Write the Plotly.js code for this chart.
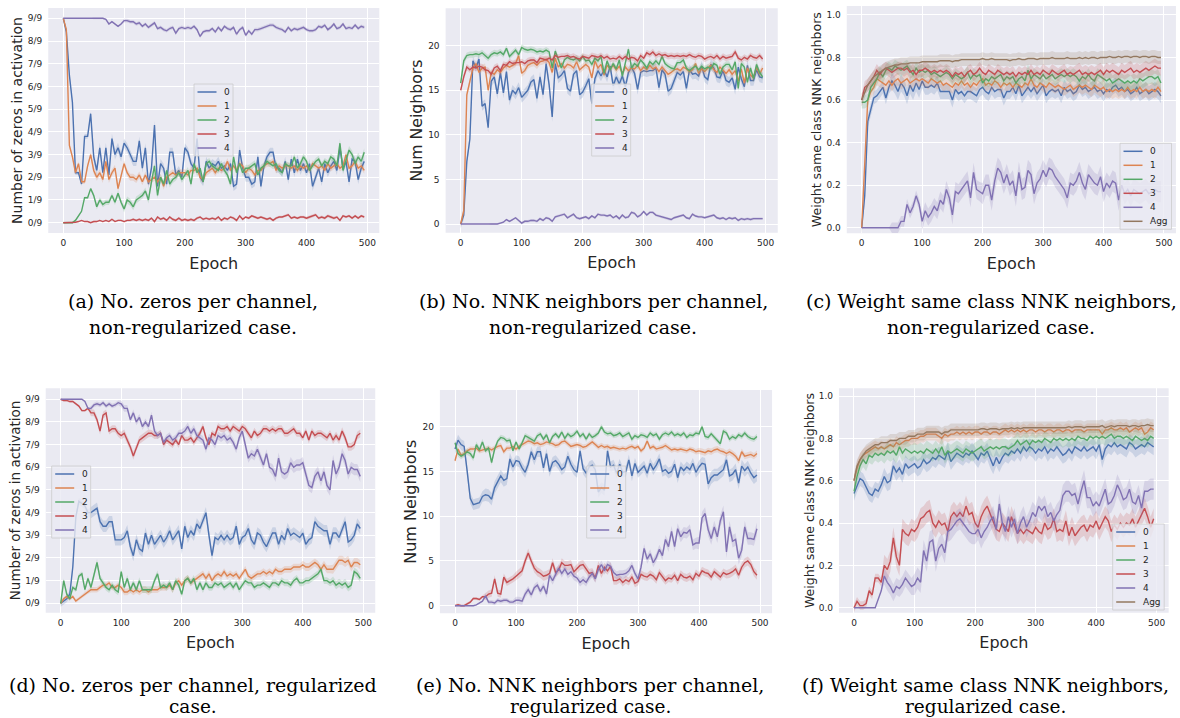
<!DOCTYPE html>
<html>
<head>
<meta charset="utf-8">
<script src="https://cdn.plot.ly/plotly-3.0.1.min.js"></script>
<style>
  html, body { margin: 0; padding: 0; background: #ffffff; }
  #chart { width: 1180px; height: 718px; }
</style>
</head>
<body>
<div id="chart"></div>
<script>
// ---------------- DATA ----------------
const EPOCHS = [0,5,10,15,20,25,30,35,40,45,
  50,55,60,65,70,75,80,85,90,95,
  100,105,110,115,120,125,130,135,140,145,
  150,155,160,165,170,175,180,185,190,195,
  200,205,210,215,220,225,230,235,240,245,
  250,255,260,265,270,275,280,285,290,295,
  300,305,310,315,320,325,330,335,340,345,
  350,355,360,365,370,375,380,385,390,395,
  400,405,410,415,420,425,430,435,440,445,
  450,455,460,465,470,475,480,485,490,495];

const SERIES_NAMES = ['0', '1', '2', '3', '4', 'Agg'];
const ZERO_TICK_LABELS = ['0/9','1/9','2/9','3/9','4/9','5/9','6/9','7/9','8/9','9/9'];

// (a) zeros per channel, non-regularized (values in ninths)
const zerosNR0 = [9,8.4,6.5,5.3,2.2,2.2,1.7,3.8,3.8,4.8,
  2.9,2.3,3.3,2.2,3.3,2.1,3.7,3.0,3.3,2.9,
  3.5,3.3,3.0,2.7,2.7,3.6,2.4,3.3,1.7,2.4,
  4.3,1.6,2.6,2.4,1.7,3.1,3.1,2.1,2.3,2.0,
  3.3,3.1,2.6,2.4,3.7,2.0,1.8,2.7,2.4,2.6,
  2.5,2.7,2.4,2.5,2.3,2.6,1.6,1.7,3.2,2.4,
  2.0,2.0,1.7,1.8,2.9,1.6,2.5,2.9,3.1,3.1,
  2.4,2.4,2.2,2.7,1.9,2.8,2.2,2.8,2.3,2.6,
  2.2,2.6,1.6,2.0,2.4,1.8,2.6,2.2,2.5,2.7,
  2.3,3.3,2.4,2.7,1.8,2.8,2.7,1.9,2.4,2.7];
const zerosNR1 = [9,8.5,3.4,2.9,2.2,2.6,1.8,1.8,2.5,3.0,
  2.3,2.0,2.2,1.9,2.7,1.9,2.2,2.4,1.5,2.1,
  2.6,2.2,2.0,2.0,1.9,2.1,1.8,2.1,1.8,1.9,
  2.0,1.8,2.0,1.6,2.0,2.1,2.2,2.1,2.2,2.2,
  2.2,2.1,2.3,2.3,2.4,2.0,1.9,2.2,2.3,2.4,
  2.2,2.4,2.3,2.4,2.7,2.3,2.5,2.3,2.6,2.5,
  2.2,2.4,2.3,2.1,2.3,2.3,2.5,2.6,2.6,2.7,
  2.3,2.5,2.4,2.5,2.5,2.4,2.5,2.3,2.5,2.4,
  2.5,2.3,2.6,2.5,2.4,2.5,2.3,2.6,2.4,2.5,
  2.6,2.4,2.5,3.0,2.4,2.5,2.7,2.4,2.5,2.3];
const zerosNR2 = [0,0,0,0,0.1,0.3,0.5,1.1,1.1,1.5,
  1.2,0.7,1.0,0.8,0.9,0.9,1.2,0.9,1.3,0.9,
  0.6,1.0,0.9,0.7,1.0,1.1,1.2,1.4,1.0,1.8,
  2.5,1.2,2.0,1.7,2.3,1.7,1.9,2.0,2.2,1.9,
  2.1,2.3,1.7,2.6,2.2,2.4,1.8,2.6,2.7,2.5,
  2.4,2.3,2.6,2.3,2.1,1.7,2.9,2.2,2.6,2.2,
  2.4,2.4,2.5,2.6,2.1,2.4,2.5,2.7,2.6,2.5,
  2.6,2.3,2.2,2.6,2.5,2.5,2.9,2.4,2.6,2.9,
  2.7,2.3,2.5,2.7,2.8,2.5,2.7,2.6,2.9,2.8,
  2.5,3.5,2.3,2.7,3.2,3.0,2.6,2.9,2.7,3.1];
const zerosNR3 = [0,0,0,0,0.02,0.05,0.1,0.05,0.05,0.0,
  0.05,0.05,0.1,0.05,0.1,0.05,0.15,0.05,0.1,0.1,
  0.05,0.1,0.1,0.15,0.1,0.15,0.1,0.15,0.1,0.2,
  0.05,0.25,0.15,0.2,0.1,0.25,0.15,0.1,0.2,0.1,
  0.15,0.1,0.15,0.1,0.2,0.25,0.15,0.2,0.15,0.2,
  0.15,0.25,0.1,0.2,0.15,0.25,0.2,0.1,0.3,0.15,
  0.25,0.2,0.3,0.25,0.2,0.25,0.2,0.15,0.2,0.1,
  0.2,0.25,0.25,0.3,0.35,0.2,0.25,0.2,0.25,0.25,
  0.2,0.25,0.3,0.35,0.2,0.25,0.2,0.3,0.25,0.2,
  0.25,0.1,0.3,0.25,0.3,0.2,0.3,0.2,0.3,0.25];
const zerosNR4 = [9,9,9,9,9,9,9,9,9,9,
  9,9,9,9.0,8.95,8.75,8.85,8.75,8.65,8.75,
  8.9,8.9,8.85,8.85,8.75,8.8,8.65,8.75,8.6,8.7,
  8.8,8.55,8.6,8.5,8.45,8.55,8.6,8.35,8.55,8.6,
  8.55,8.6,8.55,8.65,8.5,8.2,8.4,8.45,8.45,8.55,
  8.4,8.6,8.45,8.65,8.55,8.5,8.6,8.3,8.5,8.6,
  8.25,8.45,8.3,8.5,8.5,8.55,8.6,8.65,8.7,8.7,
  8.6,8.55,8.5,8.4,8.6,8.45,8.55,8.5,8.55,8.6,
  8.5,8.45,8.45,8.5,8.65,8.6,8.7,8.5,8.6,8.75,
  8.55,8.6,8.75,8.55,8.6,8.55,8.7,8.55,8.65,8.6];
// band half-width per 50-epoch block, one row per channel
const zerosNRSpread = [
  [0.1, 0.22, 0.2, 0.2, 0.2, 0.2, 0.2, 0.2, 0.2, 0.2],
  [0.1, 0.15, 0.15, 0.15, 0.15, 0.15, 0.15, 0.15, 0.15, 0.15],
  [0.05, 0.12, 0.15, 0.15, 0.15, 0.15, 0.15, 0.15, 0.15, 0.18],
  [0.02, 0.04, 0.05, 0.06, 0.06, 0.06, 0.06, 0.06, 0.07, 0.06],
  [0, 0.04, 0.08, 0.08, 0.08, 0.08, 0.08, 0.08, 0.08, 0.08]];

// (b) NNK neighbors per channel, non-regularized
const nbrsNR0 = [0,1.0,7.0,9.5,18.3,17.5,18.5,13.2,13.5,10.8,
  16.0,16.5,14.6,17.0,14.7,17.1,13.9,15.0,14.6,15.3,
  14.2,14.6,15.0,15.9,16.2,14.1,16.5,14.5,18.0,15.6,
  12.0,18.0,16.4,16.7,17.2,15.2,14.9,16.8,17.2,14.5,
  14.8,15.5,16.3,13.5,16.3,17.2,16.6,17.3,16.5,17.7,
  15.5,16.5,15.7,16.6,15.4,17.0,17.6,16.9,15.1,17.0,
  17.2,17.1,17.2,17.2,17.5,15.3,17.3,16.8,14.9,15.2,
  16.1,17.0,16.7,17.1,15.2,17.3,16.8,16.9,16.6,17.7,
  16.5,16.2,17.9,17.5,16.5,16.4,17.2,16.1,15.9,16.4,
  15.1,17.6,16.3,15.4,17.8,16.1,16.1,17.3,16.5,16.4];
const nbrsNR1 = [0,1.5,14.5,16.0,17.5,18.0,17.0,17.5,17.6,15.0,
  17.0,16.8,17.3,17.0,17.5,17.8,17.6,17.8,18.0,18.9,
  16.9,17.2,17.8,18.0,18.1,17.8,18.2,18.3,18.5,18.1,
  17.0,18.6,17.6,18.0,17.5,17.9,17.8,17.5,18.2,17.3,
  17.6,17.9,17.6,16.4,18.3,17.5,17.9,16.7,17.8,17.4,
  17.8,17.3,17.7,16.9,17.6,17.2,17.5,17.4,17.8,17.2,
  17.6,17.3,17.8,17.4,17.6,17.1,17.6,17.2,16.8,17.0,
  17.3,17.4,17.2,17.6,17.4,17.1,17.3,18.0,16.9,17.4,
  17.1,17.5,17.8,17.3,17.0,17.6,17.2,16.9,17.3,16.8,
  17.2,16.0,17.4,15.8,17.5,16.7,16.4,17.6,16.8,17.5];
const nbrsNR2 = [15.8,18.3,18.9,19.0,19.0,19.1,19.0,19.2,18.9,18.6,
  19.0,19.2,19.1,19.3,19.0,19.7,18.8,19.2,19.5,19.0,
  19.8,19.6,19.5,19.6,19.5,19.3,19.4,19.3,19.5,19.3,
  17.5,19.4,18.5,17.5,18.4,18.7,18.5,18.4,18.6,18.3,
  18.8,18.3,18.4,17.9,18.6,18.3,18.8,16.9,18.3,17.3,
  18.0,17.4,18.4,16.6,18.1,19.6,17.5,18.0,17.7,18.4,
  18.0,17.5,18.2,17.9,18.3,17.9,18.8,18.0,17.7,17.5,
  17.4,18.1,18.1,18.4,17.5,17.2,17.5,17.7,17.3,17.7,
  17.4,17.6,17.4,18.0,17.8,16.8,17.6,17.9,17.9,17.3,
  18.2,15.2,18.0,17.6,15.9,17.5,16.3,17.9,17.0,16.5];
const nbrsNR3 = [15.0,16.5,17.6,17.3,17.6,17.5,17.7,17.6,17.3,17.2,
  16.8,17.5,17.7,17.2,17.9,17.8,18.2,18.0,18.1,18.1,
  18.2,18.0,18.3,18.4,18.4,18.1,18.6,18.5,18.4,18.6,
  18.4,18.9,18.7,18.8,18.8,18.9,18.7,18.8,18.6,18.5,
  18.8,18.7,18.6,18.9,18.8,18.7,18.9,18.6,18.8,18.5,
  18.6,18.5,18.8,18.5,18.8,18.5,18.7,18.6,18.3,18.9,
  18.6,19.2,19.0,19.3,18.9,19.1,18.9,19.0,18.8,18.9,
  18.8,18.9,18.8,18.9,18.8,19.0,18.8,18.7,18.9,18.8,
  18.5,18.7,18.8,18.6,18.9,18.5,18.8,18.6,18.7,18.8,
  19.3,18.6,18.4,18.7,18.5,18.9,18.7,18.6,18.9,18.5];
const nbrsNR4 = [0,0,0,0,0,0,0,0,0,0,
  0,0,0,0.1,0.2,0.5,0.3,0.5,0.7,0.4,
  0.1,0.3,0.3,0.4,0.4,0.3,0.6,0.4,0.7,0.6,
  0.3,0.8,0.9,1.0,1.1,0.7,0.9,1.1,0.7,0.6,
  0.7,0.8,0.6,0.9,0.7,1.1,1.0,1.0,0.9,1.0,
  0.7,0.9,0.6,1.0,0.7,0.8,1.3,1.2,0.8,1.0,
  1.4,1.0,1.3,1.3,1.0,0.9,0.8,0.7,0.6,0.5,
  0.7,0.8,0.9,1.0,0.7,0.6,1.1,0.9,0.8,0.8,
  0.7,0.8,0.9,1.0,0.7,0.6,0.7,0.5,0.7,0.6,
  0.7,0.4,0.6,0.5,0.6,0.5,0.6,0.6,0.6,0.6];
const nbrsNRSpread = [
  [0.5, 0.6, 0.6, 0.6, 0.6, 0.6, 0.6, 0.6, 0.6, 0.6],
  [0.4, 0.4, 0.4, 0.4, 0.4, 0.4, 0.4, 0.4, 0.4, 0.45],
  [0.35, 0.35, 0.35, 0.35, 0.35, 0.35, 0.35, 0.35, 0.35, 0.4],
  [0.35, 0.35, 0.35, 0.35, 0.35, 0.35, 0.35, 0.35, 0.35, 0.35],
  [0, 0.1, 0.15, 0.15, 0.15, 0.15, 0.15, 0.15, 0.15, 0.15]];

// (c) weight of same-class NNK neighbors, non-regularized
const wsameNR0 = [0.0,0.15,0.5,0.55,0.61,0.62,0.64,0.66,0.61,0.66,
  0.69,0.67,0.64,0.68,0.66,0.62,0.67,0.64,0.68,0.65,
  0.69,0.66,0.66,0.67,0.66,0.68,0.64,0.64,0.64,0.64,
  0.60,0.65,0.63,0.64,0.62,0.64,0.64,0.63,0.62,0.65,
  0.66,0.64,0.63,0.66,0.64,0.65,0.65,0.61,0.64,0.64,
  0.66,0.63,0.67,0.62,0.64,0.66,0.64,0.66,0.63,0.65,
  0.67,0.62,0.64,0.65,0.64,0.65,0.62,0.66,0.64,0.65,
  0.63,0.64,0.67,0.65,0.66,0.64,0.65,0.66,0.64,0.65,
  0.63,0.65,0.64,0.66,0.67,0.65,0.66,0.64,0.65,0.63,
  0.64,0.66,0.63,0.64,0.65,0.63,0.64,0.65,0.64,0.62];
const wsameNR1 = [0.0,0.3,0.6,0.64,0.66,0.7,0.69,0.68,0.67,0.69,
  0.67,0.69,0.7,0.68,0.69,0.7,0.68,0.69,0.7,0.69,
  0.7,0.69,0.68,0.7,0.69,0.68,0.69,0.67,0.68,0.67,
  0.66,0.68,0.67,0.69,0.67,0.68,0.66,0.68,0.67,0.69,
  0.7,0.67,0.68,0.67,0.69,0.68,0.66,0.68,0.67,0.68,
  0.66,0.68,0.67,0.66,0.68,0.67,0.7,0.67,0.66,0.68,
  0.67,0.66,0.68,0.67,0.66,0.67,0.66,0.65,0.66,0.67,
  0.65,0.66,0.67,0.66,0.67,0.66,0.65,0.67,0.66,0.65,
  0.66,0.64,0.65,0.64,0.65,0.64,0.65,0.64,0.66,0.64,
  0.65,0.64,0.66,0.64,0.65,0.64,0.65,0.64,0.66,0.64];
const wsameNR2 = [0.59,0.59,0.6,0.66,0.68,0.7,0.73,0.71,0.74,0.75,
  0.74,0.76,0.75,0.74,0.75,0.76,0.74,0.72,0.75,0.73,
  0.74,0.73,0.74,0.72,0.73,0.72,0.71,0.72,0.73,0.72,
  0.7,0.72,0.71,0.7,0.71,0.73,0.7,0.72,0.71,0.72,
  0.68,0.7,0.69,0.71,0.7,0.71,0.72,0.69,0.71,0.7,
  0.71,0.68,0.7,0.71,0.69,0.74,0.7,0.72,0.71,0.7,
  0.72,0.7,0.71,0.72,0.7,0.71,0.72,0.71,0.72,0.71,
  0.72,0.71,0.69,0.71,0.7,0.72,0.7,0.69,0.72,0.71,
  0.7,0.69,0.7,0.68,0.69,0.7,0.69,0.68,0.69,0.68,
  0.69,0.68,0.7,0.69,0.7,0.71,0.71,0.7,0.71,0.68];
const wsameNR3 = [0.6,0.66,0.67,0.69,0.71,0.74,0.72,0.74,0.75,0.74,
  0.73,0.74,0.75,0.75,0.74,0.75,0.73,0.74,0.72,0.74,
  0.74,0.75,0.74,0.73,0.74,0.73,0.74,0.73,0.74,0.73,
  0.71,0.73,0.72,0.73,0.71,0.73,0.74,0.72,0.73,0.75,
  0.73,0.72,0.74,0.73,0.72,0.74,0.73,0.72,0.73,0.72,
  0.73,0.71,0.73,0.72,0.73,0.72,0.74,0.72,0.73,0.72,
  0.74,0.73,0.72,0.74,0.73,0.72,0.73,0.74,0.72,0.73,
  0.72,0.73,0.74,0.72,0.73,0.72,0.73,0.72,0.73,0.74,
  0.72,0.74,0.73,0.74,0.73,0.72,0.74,0.73,0.74,0.75,
  0.73,0.74,0.73,0.74,0.75,0.74,0.75,0.76,0.75,0.75];
const wsameNR4 = [0,0,0,0,0,0,0,0,0,0,
  0,0,0,0.03,0.03,0.11,0.07,0.1,0.15,0.11,
  0.03,0.08,0.05,0.07,0.1,0.08,0.13,0.11,0.18,0.14,
  0.06,0.17,0.16,0.18,0.2,0.22,0.14,0.26,0.18,0.17,
  0.16,0.2,0.2,0.13,0.22,0.28,0.26,0.21,0.25,0.2,
  0.22,0.15,0.26,0.18,0.19,0.27,0.25,0.16,0.21,0.23,
  0.27,0.24,0.28,0.27,0.24,0.22,0.2,0.18,0.14,0.21,
  0.2,0.22,0.26,0.21,0.18,0.25,0.23,0.21,0.2,0.24,
  0.17,0.21,0.19,0.22,0.21,0.13,0.2,0.16,0.18,0.15,
  0.18,0.17,0.16,0.17,0.18,0.16,0.17,0.18,0.17,0.17];
const wsameNRagg = [0.6,0.64,0.67,0.69,0.71,0.72,0.73,0.74,0.75,0.755,
  0.76,0.765,0.765,0.77,0.77,0.77,0.775,0.775,0.775,0.775,
  0.78,0.78,0.78,0.78,0.78,0.78,0.785,0.785,0.785,0.785,
  0.78,0.785,0.785,0.79,0.79,0.79,0.79,0.79,0.79,0.79,
  0.795,0.79,0.79,0.795,0.79,0.79,0.79,0.79,0.79,0.785,
  0.79,0.79,0.795,0.79,0.79,0.795,0.795,0.795,0.79,0.795,
  0.795,0.795,0.795,0.8,0.795,0.795,0.795,0.795,0.8,0.795,
  0.795,0.795,0.8,0.795,0.8,0.795,0.8,0.8,0.795,0.8,
  0.8,0.8,0.805,0.8,0.8,0.805,0.8,0.805,0.805,0.8,
  0.805,0.805,0.8,0.805,0.805,0.8,0.805,0.805,0.8,0.8];
const wsameNRSpread = [
  [0.03, 0.04, 0.035, 0.035, 0.035, 0.035, 0.035, 0.035, 0.035, 0.035],
  [0.03, 0.03, 0.03, 0.03, 0.03, 0.03, 0.03, 0.035, 0.035, 0.035],
  [0.03, 0.03, 0.03, 0.03, 0.03, 0.03, 0.03, 0.03, 0.035, 0.035],
  [0.03, 0.03, 0.03, 0.03, 0.03, 0.03, 0.03, 0.035, 0.035, 0.035],
  [0, 0.025, 0.04, 0.045, 0.05, 0.05, 0.05, 0.05, 0.05, 0.05],
  [0.03, 0.03, 0.03, 0.03, 0.03, 0.03, 0.03, 0.03, 0.03, 0.03]];

// (d) zeros per channel, regularized (values in ninths)
const zerosR0 = [0,0.1,0.2,0.4,1.6,3.8,4.5,4.4,4.3,4.0,
  4.0,4.1,4.2,3.6,3.4,3.4,3.6,3.6,2.8,2.8,
  2.8,2.9,3.2,2.5,2.1,2.8,2.4,2.3,3.1,2.6,
  3.0,2.6,2.8,3.0,2.7,2.9,3.2,2.8,3.0,3.2,
  2.4,3.4,2.9,3.2,3.0,3.5,3.3,3.7,4.0,3.0,
  2.1,2.9,2.8,3.0,2.8,3.0,2.8,2.9,3.4,2.6,
  2.9,3.0,3.3,2.8,2.6,3.1,3.0,2.7,2.5,2.8,
  3.1,3.1,2.6,3.0,2.8,3.3,3.0,3.1,3.0,2.9,
  3.1,2.6,2.8,2.9,3.6,3.4,3.3,3.2,3.2,2.6,
  3.1,3.1,2.9,3.3,3.6,2.7,2.8,3.0,3.5,3.3];
const zerosR1 = [0,0.2,0.3,0.2,0.3,0.1,0.2,0.3,0.4,0.5,
  0.6,0.6,0.6,0.7,0.8,0.8,0.9,0.7,0.7,0.8,
  0.7,0.5,0.5,0.6,0.5,0.6,0.5,0.6,0.6,0.5,
  0.6,0.6,0.6,0.7,0.7,0.7,0.8,0.6,0.9,1.0,
  0.8,1.0,1.1,0.9,1.0,1.1,1.2,1.3,1.1,1.3,
  1.0,1.2,1.3,1.2,1.4,1.2,1.3,1.2,1.3,1.1,
  1.3,1.5,1.2,1.1,1.2,1.3,1.3,1.4,1.3,1.4,
  1.3,1.5,1.4,1.4,1.5,1.5,1.5,1.6,1.6,1.6,
  1.7,1.6,1.6,1.7,1.8,1.7,1.5,1.7,1.5,1.5,
  1.5,1.7,1.9,1.9,1.8,1.9,1.6,1.8,1.8,1.7];
const zerosR2 = [0,1.0,0.4,0.2,0.7,0.6,1.2,1.3,0.6,1.1,
  0.7,1.2,1.8,1.1,0.9,0.7,0.6,0.8,0.6,0.5,
  1.4,0.7,1.1,0.6,0.9,0.6,1.0,0.6,0.6,0.6,
  0.6,1.0,1.3,0.7,0.8,0.7,0.9,0.6,1.0,0.8,
  0.4,1.0,1.1,0.9,1.1,0.6,0.9,0.6,0.9,0.7,
  0.7,0.9,0.8,0.9,0.7,0.8,0.9,0.7,0.9,0.6,
  0.8,1.0,0.9,0.9,0.7,0.8,0.8,0.9,0.8,0.7,
  0.9,0.9,0.8,1.0,0.9,0.9,0.8,1.0,1.1,0.9,
  0.9,1.0,1.0,1.1,1.2,1.3,1.5,1.0,1.0,0.9,
  1.0,0.8,0.9,0.8,0.9,0.7,0.8,1.4,1.3,1.1];
const zerosR3 = [9.0,8.95,8.95,8.9,8.9,8.8,8.7,8.5,8.5,8.6,
  8.4,8.4,8.1,7.6,8.3,8.4,7.6,7.7,7.7,7.5,
  7.4,7.5,7.2,6.9,6.5,6.9,7.2,7.3,7.4,7.5,
  7.5,7.4,7.4,7.5,7.0,7.2,7.1,7.0,7.2,7.0,
  7.4,7.2,7.2,7.3,7.1,7.3,7.5,7.8,7.3,7.0,
  7.5,7.4,7.8,7.7,7.7,7.8,7.6,7.8,7.7,7.6,
  7.8,7.7,7.5,7.3,7.6,7.4,7.5,7.7,7.7,7.6,
  7.7,7.6,7.7,7.7,7.5,7.5,7.6,7.7,7.5,7.5,
  7.3,7.6,7.2,7.6,7.4,7.5,7.5,7.4,7.3,7.5,
  7.2,7.4,7.2,7.6,7.3,6.9,6.9,7.0,7.4,7.5];
const zerosR4 = [9,9,9,9,9,9,9,9,8.9,8.6,
  8.6,8.75,8.8,8.75,8.85,8.7,8.8,8.7,8.75,8.85,
  8.8,8.6,8.6,8.1,8.4,8.0,8.2,7.8,8.0,7.8,
  8.3,7.6,7.4,7.5,7.1,7.3,7.4,7.2,7.3,7.5,
  7.5,7.6,7.8,7.5,7.7,7.4,7.3,7.2,6.8,7.3,
  7.2,7.0,7.4,7.3,7.4,7.2,7.3,7.1,6.8,7.3,
  7.6,7.0,6.4,6.6,6.5,6.8,6.4,6.1,6.6,6.0,
  5.9,5.6,6.4,5.8,5.7,5.8,6.2,6.0,6.1,6.1,
  6.2,5.7,5.2,5.1,5.6,5.8,5.4,5.8,5.2,5.0,
  6.3,5.7,6.0,6.6,6.3,5.7,6.0,5.9,5.9,5.6];
const zerosRSpread = [
  [0.15, 0.25, 0.25, 0.25, 0.25, 0.25, 0.25, 0.25, 0.25, 0.25],
  [0.08, 0.12, 0.15, 0.15, 0.15, 0.15, 0.15, 0.15, 0.18, 0.2],
  [0.1, 0.15, 0.15, 0.15, 0.15, 0.15, 0.15, 0.15, 0.15, 0.18],
  [0.05, 0.15, 0.17, 0.15, 0.15, 0.15, 0.15, 0.15, 0.15, 0.17],
  [0.02, 0.1, 0.15, 0.15, 0.18, 0.18, 0.2, 0.25, 0.25, 0.25]];

// (e) NNK neighbors per channel, regularized
const nbrsR0 = [17.5,18.5,18.0,17.8,15.0,12.0,11.3,11.4,11.5,12.2,
  12.4,12.3,11.9,13.2,13.8,14.5,14.0,14.2,16.4,15.5,
  16.2,16.1,15.4,14.9,15.8,17.2,16.3,17.2,17.2,15.4,
  17.0,15.0,16.0,16.2,15.8,15.2,15.5,16.7,15.8,15.2,
  14.9,17.3,15.3,14.8,15.5,15.7,15.2,12.7,13.2,12.9,
  17.3,15.5,15.7,14.8,15.8,14.9,15.0,16.3,14.5,15.9,
  14.9,15.2,15.6,14.8,15.9,15.2,15.7,16.4,15.0,15.2,
  14.8,15.0,15.8,14.3,15.5,15.1,15.5,15.2,15.9,14.9,
  15.5,15.9,15.8,13.6,14.3,14.6,14.6,14.9,15.2,16.3,
  14.5,14.7,15.2,13.7,15.6,15.1,15.5,14.8,14.3,14.6];
const nbrsR1 = [16.2,17.5,16.8,17.0,17.3,17.5,17.5,17.6,17.3,17.4,
  17.5,17.6,17.4,17.6,17.8,17.9,17.2,17.6,17.6,17.8,
  17.5,17.8,18.0,18.2,18.4,18.3,18.1,18.2,18.0,18.1,
  18.3,18.2,18.1,17.9,18.0,18.3,18.4,18.1,17.8,17.9,
  18.0,17.9,17.7,17.8,18.1,18.3,18.0,17.7,17.9,17.7,
  17.8,17.6,17.7,17.6,17.5,17.6,17.5,17.7,17.8,17.6,
  17.8,17.3,17.6,18.4,17.6,17.8,17.5,17.6,17.7,17.9,
  17.6,17.4,17.5,17.4,17.5,17.4,17.3,17.5,17.4,17.2,
  17.3,17.2,17.1,17.3,17.2,17.4,17.5,17.3,17.2,17.0,
  17.2,17.0,16.7,16.2,17.2,16.7,16.8,16.9,16.7,17.0];
const nbrsR2 = [18.2,17.0,16.7,16.9,17.2,17.0,16.5,18.0,17.4,18.3,
  17.3,17.6,16.0,17.5,18.4,18.8,18.7,18.4,18.5,17.3,
  18.3,17.5,18.2,19.0,18.8,18.6,18.4,19.0,19.2,18.6,
  19.1,18.2,18.9,19.2,18.8,19.4,18.7,19.2,18.9,19.1,
  19.5,18.9,19.2,18.6,19.2,18.8,19.0,19.3,20.0,19.4,
  19.2,19.3,19.0,19.1,19.3,18.9,19.1,19.3,18.6,19.0,
  18.8,19.1,19.0,18.8,19.3,19.0,19.2,18.6,19.1,19.3,
  19.1,19.4,19.0,19.2,19.0,19.3,18.8,19.1,19.0,19.3,
  19.2,20.0,18.9,18.8,19.2,18.8,18.4,18.1,19.5,19.3,
  18.6,18.9,18.7,19.1,18.9,19.3,18.9,18.7,18.6,18.9];
const nbrsR3 = [0,0.1,0.0,0.0,0.2,0.4,0.8,0.8,0.7,1.0,
  1.0,1.3,1.4,3.0,1.4,1.3,3.2,2.6,2.8,3.0,
  3.3,3.6,3.9,5.0,5.9,5.0,4.2,3.8,3.6,3.3,
  3.4,3.6,4.8,3.7,4.0,4.8,4.5,4.5,4.6,3.8,
  4.2,4.5,4.6,4.1,3.6,3.7,3.1,4.5,3.6,4.3,
  3.9,4.4,2.8,2.8,3.0,2.6,2.9,2.7,3.2,2.5,
  2.7,3.5,3.3,3.2,3.5,3.3,2.9,3.7,3.2,2.8,
  3.1,3.0,3.4,2.8,3.5,3.2,3.1,3.3,2.9,3.6,
  3.3,3.9,3.7,3.6,3.2,3.8,3.5,3.2,3.7,3.5,
  3.6,3.8,4.1,3.4,4.3,4.8,5.0,4.6,3.8,3.4];
const nbrsR4 = [0,0,0,0,0,0,0,0.1,0.3,0.5,
  1.1,0.4,0.4,0.3,0.6,0.5,0.6,0.6,0.4,0.4,
  0.6,0.6,0.5,1.3,1.8,1.2,2.0,2.3,1.6,2.2,
  1.3,3.4,2.8,3.5,4.2,3.6,4.1,3.5,3.8,3.3,
  3.1,2.6,2.9,2.6,3.2,3.6,3.0,4.0,4.6,3.9,
  4.6,4.4,3.7,3.4,3.5,3.5,3.6,3.9,4.5,3.6,
  3.0,4.3,6.4,5.2,5.8,4.8,5.4,6.3,5.6,7.4,
  6.6,8.3,6.6,8.6,7.7,8.2,8.1,8.5,6.8,7.0,
  7.0,9.8,10.3,8.5,7.5,8.8,7.7,9.5,10.5,6.0,
  8.8,7.2,7.4,5.3,6.2,8.8,7.5,7.5,7.4,8.6];
const nbrsRSpread = [
  [0.6, 0.7, 0.6, 0.6, 0.6, 0.6, 0.6, 0.6, 0.7, 0.7],
  [0.3, 0.3, 0.3, 0.3, 0.3, 0.3, 0.3, 0.3, 0.35, 0.35],
  [0.35, 0.3, 0.3, 0.3, 0.3, 0.3, 0.3, 0.3, 0.3, 0.3],
  [0.15, 0.4, 0.5, 0.5, 0.5, 0.45, 0.45, 0.45, 0.45, 0.5],
  [0.05, 0.25, 0.4, 0.45, 0.45, 0.45, 0.5, 0.6, 0.7, 0.7]];

// (f) weight of same-class NNK neighbors, regularized
const wsameR0 = [0.54,0.58,0.61,0.6,0.57,0.54,0.53,0.56,0.55,0.58,
  0.62,0.59,0.6,0.67,0.64,0.66,0.63,0.68,0.66,0.67,
  0.68,0.66,0.67,0.7,0.68,0.69,0.71,0.7,0.72,0.71,
  0.7,0.74,0.69,0.71,0.73,0.72,0.71,0.73,0.72,0.74,
  0.72,0.7,0.73,0.72,0.74,0.7,0.67,0.71,0.68,0.71,
  0.73,0.72,0.74,0.73,0.75,0.73,0.76,0.74,0.76,0.75,
  0.73,0.75,0.74,0.76,0.73,0.75,0.74,0.76,0.74,0.72,
  0.73,0.75,0.73,0.76,0.75,0.74,0.76,0.74,0.75,0.76,
  0.74,0.77,0.7,0.75,0.77,0.76,0.78,0.76,0.77,0.76,
  0.75,0.78,0.77,0.75,0.76,0.77,0.76,0.78,0.77,0.76];
const wsameR1 = [0.6,0.66,0.7,0.72,0.73,0.74,0.75,0.76,0.75,0.76,
  0.75,0.76,0.77,0.76,0.78,0.77,0.78,0.79,0.79,0.8,
  0.8,0.8,0.81,0.81,0.82,0.82,0.82,0.82,0.81,0.8,
  0.82,0.81,0.82,0.82,0.83,0.82,0.83,0.82,0.83,0.82,
  0.83,0.83,0.82,0.83,0.83,0.82,0.83,0.83,0.82,0.83,
  0.84,0.83,0.84,0.83,0.84,0.83,0.84,0.83,0.84,0.84,
  0.83,0.84,0.84,0.83,0.84,0.84,0.83,0.84,0.84,0.83,
  0.84,0.84,0.83,0.84,0.84,0.84,0.83,0.84,0.84,0.84,
  0.84,0.84,0.82,0.84,0.84,0.85,0.84,0.84,0.85,0.84,
  0.85,0.83,0.84,0.85,0.84,0.85,0.82,0.83,0.85,0.84];
const wsameR2 = [0.55,0.62,0.67,0.7,0.68,0.72,0.71,0.73,0.72,0.73,
  0.72,0.74,0.73,0.74,0.72,0.76,0.73,0.75,0.74,0.73,
  0.74,0.73,0.74,0.73,0.75,0.74,0.73,0.75,0.73,0.76,
  0.72,0.74,0.73,0.74,0.75,0.74,0.73,0.75,0.74,0.73,
  0.74,0.75,0.76,0.74,0.75,0.76,0.75,0.76,0.75,0.76,
  0.76,0.75,0.76,0.77,0.79,0.77,0.78,0.79,0.77,0.79,
  0.78,0.79,0.78,0.8,0.79,0.78,0.8,0.79,0.8,0.79,
  0.8,0.79,0.8,0.79,0.81,0.8,0.8,0.79,0.81,0.8,
  0.81,0.8,0.81,0.8,0.81,0.82,0.8,0.81,0.81,0.8,
  0.81,0.8,0.79,0.81,0.8,0.79,0.8,0.79,0.81,0.8];
const wsameR3 = [0.0,0.03,0.01,0.01,0.02,0.08,0.06,0.14,0.14,0.12,
  0.2,0.18,0.22,0.33,0.24,0.2,0.37,0.35,0.34,0.37,
  0.36,0.38,0.42,0.43,0.45,0.46,0.4,0.38,0.41,0.39,
  0.4,0.36,0.43,0.45,0.43,0.45,0.43,0.48,0.44,0.45,
  0.4,0.38,0.43,0.46,0.48,0.44,0.4,0.37,0.36,0.4,
  0.38,0.36,0.43,0.39,0.35,0.37,0.35,0.37,0.36,0.35,
  0.38,0.36,0.35,0.4,0.37,0.38,0.42,0.36,0.37,0.36,
  0.41,0.34,0.38,0.34,0.36,0.38,0.39,0.36,0.39,0.38,
  0.41,0.37,0.4,0.43,0.41,0.36,0.39,0.37,0.4,0.38,
  0.4,0.39,0.42,0.38,0.41,0.44,0.47,0.43,0.38,0.42];
const wsameR4 = [0,0,0,0,0,0,0,0,0.04,0.08,
  0.15,0.12,0.1,0.07,0.1,0.09,0.11,0.14,0.12,0.1,
  0.11,0.14,0.12,0.27,0.22,0.31,0.32,0.22,0.28,0.3,
  0.26,0.36,0.37,0.39,0.41,0.42,0.4,0.38,0.36,0.35,
  0.35,0.37,0.33,0.36,0.38,0.41,0.43,0.37,0.49,0.4,
  0.36,0.43,0.38,0.42,0.35,0.4,0.43,0.38,0.41,0.45,
  0.43,0.48,0.46,0.48,0.43,0.45,0.41,0.44,0.46,0.53,
  0.55,0.55,0.53,0.54,0.49,0.55,0.6,0.52,0.52,0.48,
  0.5,0.48,0.52,0.56,0.49,0.5,0.53,0.58,0.55,0.51,
  0.52,0.56,0.5,0.49,0.53,0.47,0.55,0.55,0.56,0.56];
const wsameRagg = [0.6,0.67,0.7,0.72,0.74,0.75,0.76,0.77,0.77,0.78,
  0.78,0.78,0.79,0.79,0.79,0.8,0.8,0.8,0.81,0.81,
  0.81,0.82,0.82,0.82,0.83,0.83,0.83,0.83,0.83,0.82,
  0.83,0.83,0.84,0.84,0.84,0.84,0.84,0.84,0.84,0.84,
  0.84,0.84,0.845,0.845,0.84,0.845,0.845,0.845,0.84,0.845,
  0.845,0.845,0.85,0.845,0.85,0.845,0.85,0.85,0.85,0.85,
  0.85,0.85,0.85,0.85,0.85,0.85,0.85,0.85,0.85,0.85,
  0.85,0.855,0.85,0.855,0.855,0.855,0.85,0.855,0.855,0.855,
  0.855,0.855,0.86,0.85,0.855,0.86,0.855,0.86,0.86,0.86,
  0.86,0.855,0.86,0.86,0.855,0.86,0.86,0.865,0.86,0.86];
const wsameRSpread = [
  [0.035, 0.04, 0.04, 0.04, 0.04, 0.04, 0.04, 0.04, 0.04, 0.04],
  [0.03, 0.03, 0.03, 0.03, 0.03, 0.03, 0.03, 0.03, 0.03, 0.03],
  [0.035, 0.04, 0.04, 0.04, 0.04, 0.04, 0.035, 0.035, 0.035, 0.035],
  [0.02, 0.05, 0.05, 0.05, 0.05, 0.05, 0.05, 0.05, 0.05, 0.05],
  [0, 0.04, 0.05, 0.05, 0.05, 0.05, 0.05, 0.05, 0.05, 0.05],
  [0.03, 0.03, 0.03, 0.03, 0.03, 0.03, 0.03, 0.03, 0.03, 0.03]];

const CAPTIONS = [
  ['(a) No. zeros per channel,', 'non-regularized case.'],
  ['(b) No. NNK neighbors per channel,', 'non-regularized case.'],
  ['(c) Weight same class NNK neighbors,', 'non-regularized case.'],
  ['(d) No. zeros per channel, regularized', 'case.'],
  ['(e) No. NNK neighbors per channel,', 'regularized case.'],
  ['(f) Weight same class NNK neighbors,', 'regularized case.']
];

// ---------------- STYLE / LAYOUT ----------------
const W = 1180, H = 718;
const COLORS = ['#4C72B0', '#DD8452', '#55A868', '#C44E52', '#8172B3', '#937860'];
const BANDS = ['rgba(76,114,176,0.2)', 'rgba(221,132,82,0.2)', 'rgba(85,168,104,0.2)',
               'rgba(196,78,82,0.2)', 'rgba(129,114,179,0.2)', 'rgba(147,120,96,0.2)'];
const TXT = '#262626';

const panels = [
  { series: [zerosNR0, zerosNR1, zerosNR2, zerosNR3, zerosNR4], spread: zerosNRSpread,
    ylabel: 'Number of zeros in activation', ysize: 14, yfmt: 'ninths',
    x0: 63.3, x500: 367.3, dom: [8.1, 232.9], yr: [-0.45, 9.45],
    leg: [194, 84], cap: [193, 193], capY: [301, 327] },
  { series: [nbrsNR0, nbrsNR1, nbrsNR2, nbrsNR3, nbrsNR4], spread: nbrsNRSpread,
    ylabel: 'Num Neighbors', ysize: 15.7, yfmt: 'int',
    x0: 460.7, x500: 765.7, dom: [8.3, 232.7], yr: [-0.976, 24.195],
    leg: [591.7, 84], cap: [593, 593], capY: [301, 327] },
  { series: [wsameNR0, wsameNR1, wsameNR2, wsameNR3, wsameNR4, wsameNRagg], spread: wsameNRSpread,
    ylabel: 'Weight same class NNK neighbors', ysize: 12.6, yfmt: 'dec',
    x0: 861.7, x500: 1164, dom: [6, 233.3], yr: [-0.026, 1.042],
    leg: [1120, 143.3], cap: [991, 991], capY: [301, 327] },
  { series: [zerosR0, zerosR1, zerosR2, zerosR3, zerosR4], spread: zerosRSpread,
    ylabel: 'Number of zeros in activation', ysize: 13.5, yfmt: 'ninths',
    x0: 60.7, x500: 363.3, dom: [388.3, 612.7], yr: [-0.415, 9.485],
    leg: [51.7, 466], cap: [192.5, 192.5], capY: [685, 706] },
  { series: [nbrsR0, nbrsR1, nbrsR2, nbrsR3, nbrsR4], spread: nbrsRSpread,
    ylabel: 'Num Neighbors', ysize: 16, yfmt: 'int',
    x0: 455, x500: 760, dom: [390, 613.3], yr: [-0.85, 24.1],
    leg: [586.7, 466], cap: [590, 590], capY: [685, 706] },
  { series: [wsameR0, wsameR1, wsameR2, wsameR3, wsameR4, wsameRagg], spread: wsameRSpread,
    ylabel: 'Weight same class NNK neighbors', ysize: 12.6, yfmt: 'dec',
    x0: 854, x500: 1156.7, dom: [388.3, 612.7], yr: [-0.0236, 1.0364],
    leg: [1112.7, 524], cap: [985, 985], capY: [685, 706] }
];

const XR = [-24.75, 519.75];
const px = v => v / W;
const py = v => 1 - v / H;

const traces = [];
const layout = {
  width: W, height: H,
  margin: { l: 0, r: 0, t: 0, b: 0, pad: 0 },
  paper_bgcolor: '#ffffff',
  showlegend: false,
  font: { family: 'DejaVu Sans, sans-serif', color: TXT, size: 9 },
  shapes: [],
  annotations: []
};

panels.forEach((p, i) => {
  const k = i + 1;
  const xa = 'x' + (k === 1 ? '' : k), ya = 'y' + (k === 1 ? '' : k);
  const s = (p.x500 - p.x0) / 500;
  const left = p.x0 + XR[0] * s, right = p.x0 + XR[1] * s;

  p.series.forEach((ys, j) => {
    const sp = p.spread[j];
    const up = ys.map((v, t) => v + sp[Math.floor(t / 10)]);
    const lo = ys.map((v, t) => v - sp[Math.floor(t / 10)]);
    traces.push({
      type: 'scatter', mode: 'lines', xaxis: xa, yaxis: ya,
      x: EPOCHS.concat(EPOCHS.slice().reverse()),
      y: up.concat(lo.slice().reverse()),
      fill: 'toself', fillcolor: BANDS[j], line: { width: 0 },
      hoverinfo: 'skip', showlegend: false
    });
    traces.push({
      type: 'scatter', mode: 'lines', xaxis: xa, yaxis: ya,
      x: EPOCHS, y: ys, name: SERIES_NAMES[j],
      line: { color: COLORS[j], width: 1.4 }, showlegend: false
    });
  });

  let yt;
  if (p.yfmt === 'ninths') yt = { tickvals: [0,1,2,3,4,5,6,7,8,9], ticktext: ZERO_TICK_LABELS };
  else if (p.yfmt === 'int') yt = { tickvals: [0,5,10,15,20], ticktext: ['0','5','10','15','20'] };
  else yt = { tickvals: [0,0.2,0.4,0.6,0.8,1.0], ticktext: ['0.0','0.2','0.4','0.6','0.8','1.0'] };

  layout['xaxis' + (k === 1 ? '' : k)] = {
    domain: [px(left), px(right)], range: XR, anchor: ya,
    tickvals: [0,100,200,300,400,500], ticktext: ['0','100','200','300','400','500'],
    showgrid: true, gridcolor: '#ffffff', gridwidth: 1, zeroline: false, showline: false,
    ticks: '', ticklabelstandoff: 3, tickfont: { size: 9, color: TXT },
    title: { text: 'Epoch', font: { size: 16, color: TXT }, standoff: 10 },
    fixedrange: true
  };
  layout['yaxis' + (k === 1 ? '' : k)] = Object.assign({
    domain: [py(p.dom[1]), py(p.dom[0])], range: p.yr, anchor: xa,
    showgrid: true, gridcolor: '#ffffff', gridwidth: 1, zeroline: false, showline: false,
    ticks: '', ticklabelstandoff: 5, tickfont: { size: 9, color: TXT },
    title: { text: p.ylabel, font: { size: p.ysize, color: TXT }, standoff: 1 },
    fixedrange: true
  }, yt);

  // plot background
  layout.shapes.push({
    type: 'rect', xref: 'paper', yref: 'paper', layer: 'below',
    x0: px(left), x1: px(right), y0: py(p.dom[1]), y1: py(p.dom[0]),
    fillcolor: '#EAEAF2', line: { width: 0 }
  });

  // legend (seaborn style box)
  const n = p.series.length;
  const lw = n === 6 ? 51.5 : 39;
  const lh = 16 + 14 * (n - 1);
  const [lx, ly] = p.leg;
  layout.shapes.push({
    type: 'rect', xref: 'paper', yref: 'paper', layer: 'above',
    x0: px(lx), x1: px(lx + lw), y0: py(ly + lh), y1: py(ly),
    fillcolor: 'rgba(234,234,242,0.8)', line: { color: 'rgba(204,204,204,1)', width: 0.8 }
  });
  for (let j = 0; j < n; j++) {
    const ey = ly + 8 + 14 * j;
    layout.shapes.push({
      type: 'line', xref: 'paper', yref: 'paper', layer: 'above',
      x0: px(lx + 3.5), x1: px(lx + 22.5), y0: py(ey), y1: py(ey),
      line: { color: COLORS[j], width: 1.5 }
    });
    layout.annotations.push({
      xref: 'paper', yref: 'paper', x: px(lx + 28), y: py(ey),
      xanchor: 'left', yanchor: 'middle', showarrow: false,
      text: SERIES_NAMES[j], font: { size: 9, color: TXT }
    });
  }

  // captions
  CAPTIONS[i].forEach((line, li) => {
    layout.annotations.push({
      xref: 'paper', yref: 'paper', x: px(p.cap[li]), y: py(p.capY[li]),
      xanchor: 'center', yanchor: 'middle', showarrow: false,
      text: line, font: { family: 'DejaVu Serif, serif', size: li === 1 && i >= 3 ? 18.5 : 19, color: '#000000' }
    });
  });
});

Plotly.newPlot('chart', traces, layout, { staticPlot: true, displayModeBar: false });
</script>
</body>
</html>
